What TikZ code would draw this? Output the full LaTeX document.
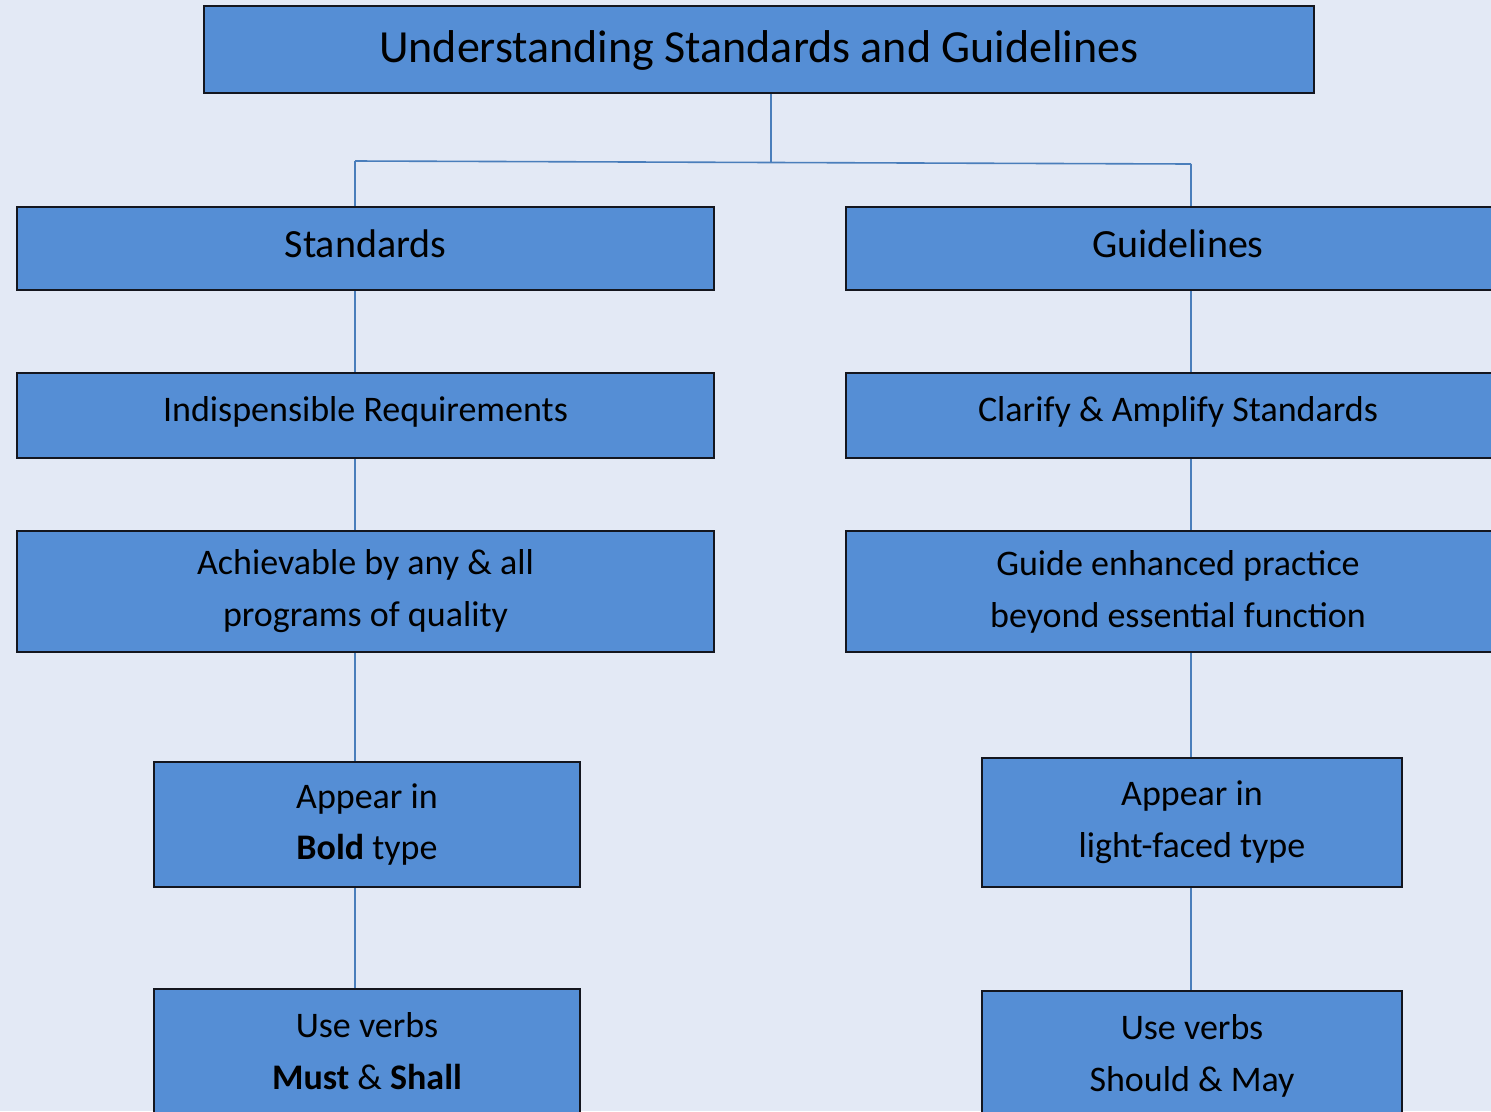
\documentclass[tikz,border=0pt]{standalone}
\usepackage{fontspec}
\setmainfont{Carlito}
\usetikzlibrary{backgrounds}
\definecolor{pagebg}{RGB}{227,233,245}
\definecolor{boxfill}{RGB}{85,142,213}
\definecolor{boxline}{RGB}{20,22,30}
\definecolor{linkblue}{RGB}{74,126,187}
\newcommand\ttlfont{\fontsize{34.5}{40}\selectfont}
\newcommand\lvlfont{\fontsize{30}{36}\selectfont}
\newcommand\bodyfont{\fontsize{27}{39}\selectfont}
\begin{document}
\begin{tikzpicture}[x=0.75pt,y=-0.75pt,
  box/.style={draw=boxline, line width=1.6pt, fill=boxfill, rectangle,
    inner sep=0pt, align=center, text=black},
  lvlline/.style={font=\lvlfont, text height=22pt, text depth=7.8pt},
  bodyline/.style={font=\bodyfont, text height=19pt, text depth=10pt},
  conn/.style={draw=linkblue, line width=1.2pt}]
\useasboundingbox (0,0) rectangle (1491,1111);
\clip (0,0) rectangle (1491,1111);

% title
\node[box, font=\ttlfont, text height=25pt, text depth=4.8pt,
  minimum width=1110*0.75pt, minimum height=87*0.75pt]
  (title) at (759,49.5) {Understanding Standards and Guidelines};

% first level
\node[box, lvlline, minimum width=697*0.75pt, minimum height=83*0.75pt]
  (std) at (365.5,248.5) {Standards};
\node[box, lvlline, minimum width=664*0.75pt, minimum height=83*0.75pt]
  (gdl) at (1178,248.5) {Guidelines};

% second level
\node[box, bodyline, minimum width=697*0.75pt, minimum height=85*0.75pt]
  (ind) at (365.5,415.5) {Indispensible Requirements};
\node[box, bodyline, minimum width=664*0.75pt, minimum height=85*0.75pt]
  (cla) at (1178,415.5) {Clarify \& Amplify Standards};

% third level
\node[box, font=\bodyfont, minimum width=697*0.75pt, minimum height=121*0.75pt]
  (ach) at (365.5,591.5) {Achievable by any \& all\\programs of quality};
\node[box, font=\bodyfont, minimum width=664*0.75pt, minimum height=121*0.75pt]
  (gui) at (1178,591.5) {Guide enhanced practice\\beyond essential function};

% typeface
\node[box, font=\bodyfont, minimum width=426*0.75pt, minimum height=125*0.75pt]
  (apb) at (367,824.5) {Appear in\\\textbf{Bold} type};
\node[box, font=\bodyfont, minimum width=420*0.75pt, minimum height=129*0.75pt]
  (apl) at (1192,822.5) {Appear in\\light-faced type};

% verbs
\node[box, font=\bodyfont, minimum width=426*0.75pt, minimum height=125*0.75pt]
  (usm) at (367,1051.5) {Use verbs\\\textbf{Must} \& \textbf{Shall}};
\node[box, font=\bodyfont, minimum width=420*0.75pt, minimum height=129*0.75pt]
  (uss) at (1192,1055.5) {Use verbs\\Should \& May};

\coordinate (hub) at (771,162);
\coordinate (lb) at (355,161);
\coordinate (rb) at (1191,164);

\begin{scope}[on background layer]
  \fill[pagebg] (0,0) rectangle (1491,1111);
  \draw[conn] (title.south -| hub) -- (hub);
  \draw[conn] (lb) -- (rb);
  \draw[conn] (lb) -- (lb |- std.north);
  \draw[conn] (rb) -- (rb |- gdl.north);
  \draw[conn] (std.south -| lb) -- (ind.north -| lb);
  \draw[conn] (ind.south -| lb) -- (ach.north -| lb);
  \draw[conn] (ach.south -| lb) -- (apb.north -| lb);
  \draw[conn] (apb.south -| lb) -- (usm.north -| lb);
  \draw[conn] (gdl.south -| rb) -- (cla.north -| rb);
  \draw[conn] (cla.south -| rb) -- (gui.north -| rb);
  \draw[conn] (gui.south -| rb) -- (apl.north -| rb);
  \draw[conn] (apl.south -| rb) -- (uss.north -| rb);
\end{scope}
\end{tikzpicture}
\end{document}
